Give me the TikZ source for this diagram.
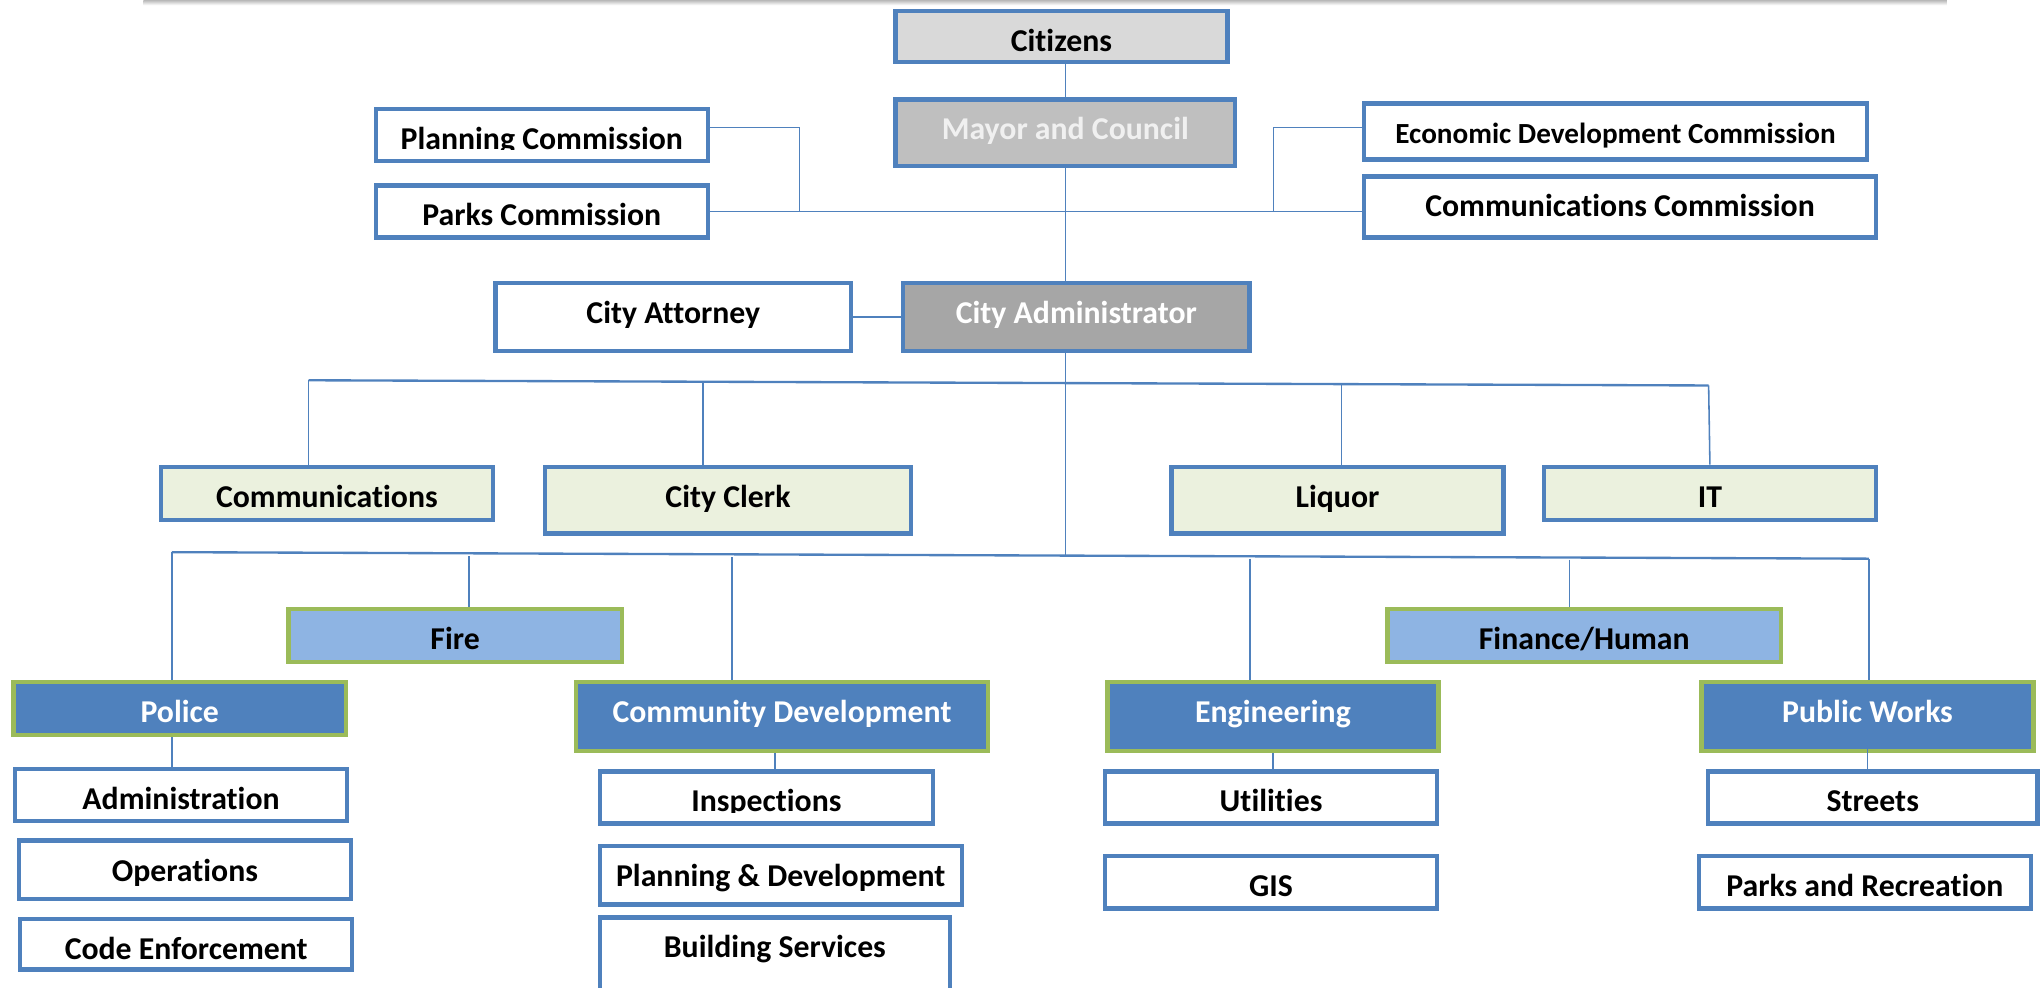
\documentclass[tikz,border=0pt]{standalone}
\usepackage{fontspec}
\setmainfont{Carlito}[Ligatures=NoCommon]
\usetikzlibrary{calc}

\definecolor{frameblue}{HTML}{4F81BD}
\definecolor{framegreen}{HTML}{9BBB59}
\definecolor{fillgrayA}{HTML}{D9D9D9}
\definecolor{fillgrayB}{HTML}{BFBFBF}
\definecolor{fillgrayC}{HTML}{A6A6A6}
\definecolor{fillsage}{HTML}{EBF1DE}
\definecolor{fillsky}{HTML}{8EB4E3}
\definecolor{fillnavy}{HTML}{4F81BD}

\tikzset{
  boxbase/.style={draw, rectangle, inner sep=0pt, line width=1.7pt},
  plainbox/.style={boxbase, draw=frameblue, fill=white},
  plainbox txt/.style={text=black},
  citbox/.style={boxbase, draw=frameblue, fill=fillgrayA},
  citbox txt/.style={text=black},
  mayorbox/.style={boxbase, draw=frameblue, fill=fillgrayB},
  mayorbox txt/.style={text=white!94!black},
  adminbox/.style={boxbase, draw=frameblue, fill=fillgrayC},
  adminbox txt/.style={text=white},
  staffbox/.style={boxbase, draw=frameblue, fill=fillsage},
  staffbox txt/.style={text=black},
  skybox/.style={boxbase, draw=framegreen, fill=fillsky},
  skybox txt/.style={text=black},
  deptbox/.style={boxbase, draw=framegreen, fill=fillnavy},
  deptbox txt/.style={text=white},
  lbl/.style={inner sep=0pt, font=\fontsize{12.2}{14}\selectfont\bfseries},
  wire/.style={draw=frameblue, line width=0.6pt},
  bus/.style={draw=frameblue, line width=0.9pt},
}

% box given by its outer corners (x1,y1)-(x2,y2); label set on a fixed baseline below the top
\newcommand\orgbox[7]{%
  \pgfmathsetmacro\obw{(#5-#3-3)/2}%
  \pgfmathsetmacro\obh{(#6-#4-3)/2}%
  \node[#2, minimum width=\obw pt, minimum height=\obh pt] (#1) at ({(#3+#5)/2},{(#4+#6)/2}) {};
  \node[lbl, #2 txt, anchor=base] (#1-t) at ({(#3+#5)/2},{#4+32.5}) {#7};
}
% same, with the label cut off at its baseline
\newcommand\orgboxcut[7]{%
  \pgfmathsetmacro\obw{(#5-#3-3)/2}%
  \pgfmathsetmacro\obh{(#6-#4-3)/2}%
  \node[#2, minimum width=\obw pt, minimum height=\obh pt] (#1) at ({(#3+#5)/2},{(#4+#6)/2}) {};
  \begin{scope}
    \clip ({#3},{#4}) rectangle ({#5},{#4+32.8});
    \node[lbl, #2 txt, anchor=base] (#1-t) at ({(#3+#5)/2},{#4+32.5}) {#7};
  \end{scope}
}

\begin{document}
\begin{tikzpicture}[x=0.5pt, y=-0.5pt]
\useasboundingbox (0,0) rectangle (1568,758);

% page-edge shadow along the top
\shade[top color=black!28, bottom color=white] (110,0) rectangle (1495,4);

% ---- boxes ----
\orgbox{cit}{citbox}{686}{7}{944}{49}{Citizens}
\orgbox{mayor}{mayorbox}{686}{75}{950}{129}{Mayor and Council}
\orgboxcut{plan}{plainbox}{287}{82}{545}{125}{Planning Commission}
\orgbox{parks}{plainbox}{287}{141}{545}{184}{Parks Commission}
\orgbox{econ}{plainbox}{1046}{78}{1435}{124}{\fontsize{11.2}{13}\selectfont Economic Development Commission}
\orgbox{ccom}{plainbox}{1046}{134}{1442}{184}{Communications Commission}
\orgbox{atty}{plainbox}{379}{216}{655}{271}{City Attorney}
\orgbox{admin}{adminbox}{692}{216}{961}{271}{City Administrator}

\orgbox{comm}{staffbox}{122}{357}{380}{401}{Communications}
\orgbox{clerk}{staffbox}{417}{357}{701}{411}{City Clerk}
\orgbox{liq}{staffbox}{898}{357}{1156}{411}{Liquor}
\orgbox{it}{staffbox}{1184}{357}{1442}{401}{IT}

\orgbox{fire}{skybox}{220}{466}{479}{510}{Fire}
\orgbox{fin}{skybox}{1064}{466}{1369}{510}{Finance/Human}
\orgbox{police}{deptbox}{9}{522}{267}{566}{Police}
\orgbox{cd}{deptbox}{441}{522}{760}{578}{Community Development}
\orgbox{eng}{deptbox}{849}{522}{1106}{578}{Engineering}
\orgbox{pw}{deptbox}{1305}{522}{1563}{578}{Public Works}

\orgbox{adm}{plainbox}{10}{589}{268}{632}{Administration}
\orgbox{ops}{plainbox}{13}{644}{271}{692}{Operations}
\orgbox{code}{plainbox}{14}{704}{272}{746}{Code Enforcement}
\orgboxcut{insp}{plainbox}{459}{591}{718}{634}{Inspections}
\orgbox{pdev}{plainbox}{459}{648}{740}{696}{Planning \& Development}
\orgbox{bsvc}{plainbox}{459}{703}{731}{764}{Building Services}
\orgbox{util}{plainbox}{847}{591}{1105}{634}{Utilities}
\orgbox{gis}{plainbox}{847}{656}{1105}{699}{GIS}
\orgbox{str}{plainbox}{1310}{591}{1566}{634}{Streets}
\orgbox{prec}{plainbox}{1303}{656}{1561}{699}{Parks and Recreation}

% ---- connectors: top of the chart ----
\draw[wire] (mayor.north |- cit.south) -- (mayor.north);
\draw[wire] (mayor.south) -- (mayor.south |- admin.north);
\coordinate (pjTop) at (614,98);
\draw[wire] (plan.east |- pjTop) -- (pjTop) -- (pjTop |- parks.east);
\draw[wire] (parks.east) -- (parks.east -| ccom.west);
\coordinate (ejTop) at (978,98);
\draw[wire] (econ.west |- ejTop) -- (ejTop) -- (ejTop |- parks.east);
\draw[wire] (atty.east) -- (atty.east -| admin.west);
\coordinate (hub) at (818,426);
\draw[wire] (mayor.south |- admin.south) -- (hub);

% ---- staff offices ----
\coordinate (b1L) at (237,292);
\coordinate (b1R) at (1312,296);
\draw[bus] (b1L) -- (b1R);
\draw[wire] (b1L) -- (b1L |- comm.north);
\coordinate (dClerk) at (540,294);
\draw[wire] (dClerk) -- (dClerk |- clerk.north);
\coordinate (dLiq) at (1030,295);
\draw[wire] (dLiq) -- (dLiq |- liq.north);
\draw[wire] (b1R) -- (it.north);

% ---- departments ----
\coordinate (b2L) at (132,424);
\coordinate (b2R) at (1435,429);
\draw[bus] (b2L) -- (b2R);
\draw[wire] (b2L) -- (b2L |- police.north);
\coordinate (dFire) at (360,427);
\draw[wire] (dFire) -- (dFire |- fire.north);
\coordinate (dCD) at (562,428);
\draw[wire] (dCD) -- (dCD |- cd.north);
\coordinate (dEng) at (960,429);
\draw[wire] (dEng) -- (dEng |- eng.north);
\coordinate (dFin) at (1205,430);
\draw[wire] (dFin) -- (dFin |- fin.north);
\draw[wire] (b2R) -- (b2R |- pw.north);

% ---- divisions ----
\draw[wire] (b2L |- police.south) -- (b2L |- adm.north);
\coordinate (xIns) at (595,600);
\draw[wire] (xIns |- cd.south) -- (xIns |- insp.north);
\draw[wire] (eng.south) -- (eng.south |- util.north);
\draw[wire] ([yshift=6pt]pw.south) -- (pw.south |- str.north);
\end{tikzpicture}
\end{document}
